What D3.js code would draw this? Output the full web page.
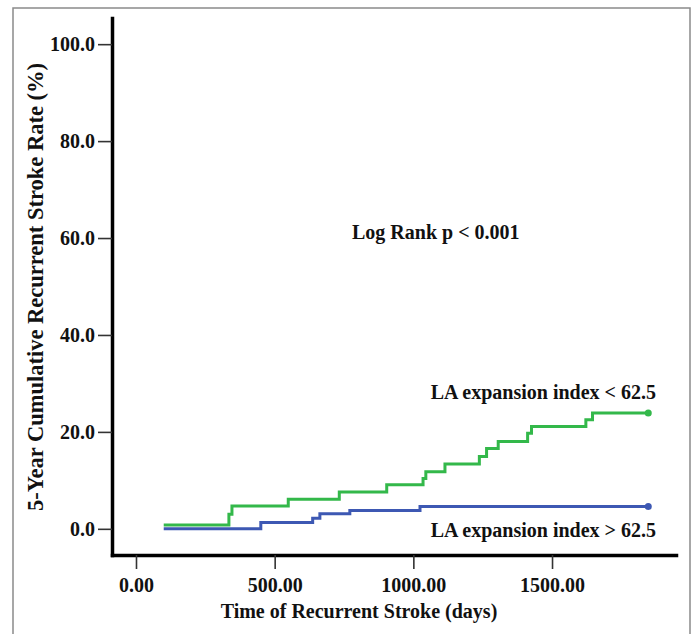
<!DOCTYPE html>
<html>
<head>
<meta charset="utf-8">
<script src="https://cdn.jsdelivr.net/npm/d3@7"></script>
<style>
  body { margin: 0; background: #fff; }
  text { font-family: "Liberation Serif", "Times New Roman", serif; font-weight: bold; fill: #111; }
</style>
</head>
<body>
<script>
// step points: [days, cumulative %]
var lowGroupDays = [100, 335, 346, 549, 733, 904, 1035, 1045, 1114, 1238, 1264, 1306, 1412, 1426, 1622, 1646, 1847];
var lowGroupRate = [0.8, 3.0, 4.7, 6.1, 7.6, 9.1, 10.4, 11.8, 13.4, 14.9, 16.6, 18.0, 19.7, 21.1, 22.5, 23.9, 23.9];
var highGroupDays = [100, 450, 637, 663, 771, 1024, 1847];
var highGroupRate = [0, 1.3, 2.2, 3.1, 3.8, 4.6, 4.6];

var xTicks = [0, 500, 1000, 1500];
var yTicks = [0, 20, 40, 60, 80, 100];

var seriesNames = ["LA expansion index < 62.5", "LA expansion index > 62.5"];
var seriesColors = ["#33b84a", "#3d58b3"];

var width = 696, height = 634;

var svg = d3.select("body").append("svg")
    .attr("width", width)
    .attr("height", height);

// outer frame
svg.append("rect")
  .attr("x", 13).attr("y", 8)
  .attr("width", 677).attr("height", 640)
  .style("fill", "none")
  .style("stroke", "#8a8a8a")
  .style("stroke-width", 1.5);

var x = d3.scaleLinear()
  .domain([-86.5, 1947])
  .range([112, 676]);

var y = d3.scaleLinear()
  .domain([-5.4, 105.4])
  .range([555, 18]);

var xAxis = svg.append("g")
  .attr("transform", "translate(0,555)")
  .call(d3.axisBottom(x)
    .tickValues(xTicks)
    .tickSize(14)
    .tickSizeOuter(0)
    .tickPadding(9)
    .tickFormat(d3.format(".2f")));

var yAxis = svg.append("g")
  .attr("transform", "translate(112,0)")
  .call(d3.axisLeft(y)
    .tickValues(yTicks)
    .tickSize(14)
    .tickSizeOuter(0)
    .tickPadding(3)
    .tickFormat(d3.format(".1f")));

[xAxis, yAxis].forEach(function(ax){
  ax.select(".domain")
    .style("stroke", "#000")
    .style("stroke-width", 3.5)
    .style("stroke-linecap", "square");
  ax.selectAll(".tick line")
    .style("stroke", "#333")
    .style("stroke-width", 1.6);
  ax.selectAll(".tick text")
    .style("font-size", "20px")
    .style("font-family", "'Liberation Serif', serif")
    .style("font-weight", "bold")
    .style("fill", "#111");
});

// axis titles
svg.append("text")
  .attr("x", 359)
  .attr("y", 618)
  .attr("text-anchor", "middle")
  .style("font-size", "20px")
  .text("Time of Recurrent Stroke (days)");

svg.append("text")
  .attr("transform", "translate(43,287)rotate(-90)")
  .attr("text-anchor", "middle")
  .style("font-size", "22.5px")
  .text("5-Year Cumulative Recurrent Stroke Rate (%)");

// curves
var line = d3.line()
  .x(function(d){ return x(d[0]); })
  .y(function(d){ return y(d[1]); })
  .curve(d3.curveStepAfter);

var series = [
  d3.zip(lowGroupDays, lowGroupRate),
  d3.zip(highGroupDays, highGroupRate)
];

series.forEach(function(s, i){
  svg.append("path")
    .datum(s)
    .attr("d", line)
    .style("fill", "none")
    .style("stroke", seriesColors[i])
    .style("stroke-width", 3);
  var last = s[s.length-1];
  svg.append("circle")
    .attr("cx", x(last[0]))
    .attr("cy", y(last[1]))
    .attr("r", 3.5)
    .style("fill", seriesColors[i]);
});

// annotations
svg.append("text")
  .attr("x", 352).attr("y", 239)
  .style("font-size", "20px")
  .text("Log Rank p < 0.001");

svg.append("text")
  .attr("x", 656).attr("y", 399)
  .attr("text-anchor", "end")
  .style("font-size", "20px")
  .text(seriesNames[0]);

svg.append("text")
  .attr("x", 656).attr("y", 537)
  .attr("text-anchor", "end")
  .style("font-size", "20px")
  .text(seriesNames[1]);
</script>
</body>
</html>
